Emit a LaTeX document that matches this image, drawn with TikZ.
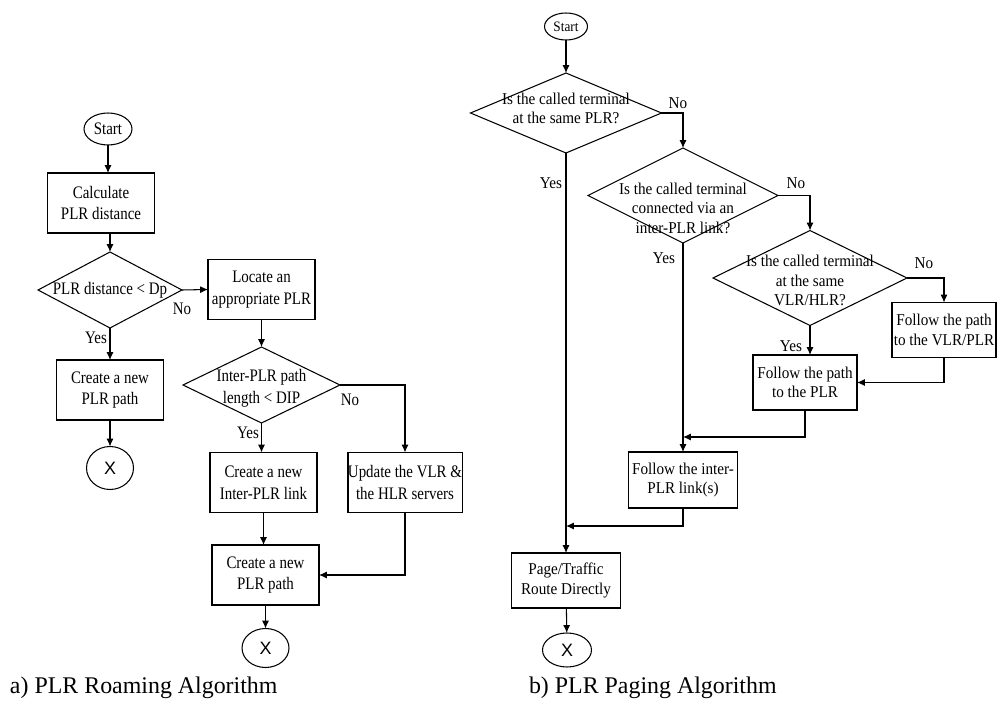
\documentclass[tikz,border=0pt]{standalone}
\usepackage{fontspec}
\setmainfont{Liberation Serif}
\newfontfamily\leftfont[FakeStretch=0.85]{Liberation Serif}
\newfontfamily\rightfont[FakeStretch=0.92]{Liberation Serif}
\newfontfamily\xfont{Liberation Sans}
\usetikzlibrary{shapes.geometric,arrows.meta}

% text of a decision, takes no room in the diamond
\newcommand{\dtext}[2][0pt]{\raisebox{#1}[0pt][0pt]{\makebox[0pt]{\begin{tabular}{@{}c@{}}#2\end{tabular}}}}

\begin{document}
\begin{tikzpicture}[x=0.02cm,y=-0.02cm,line width=0.6pt,
  >={Latex[length=4.5pt,width=4pt]},
  every node/.style={outer sep=0pt},
  lfont/.style={font=\leftfont\fontsize{10}{12.3}\selectfont},
  rfont/.style={font=\rightfont\fontsize{9.4}{11.2}\selectfont},
  lbox/.style={draw,rectangle,align=center,inner sep=0pt,minimum width=2.14cm,minimum height=1.2cm,lfont},
  rbox/.style={draw,rectangle,align=center,inner sep=0pt,minimum width=2.08cm,minimum height=1.1cm,rfont},
  decision/.style 2 args={diamond,draw,inner sep=0pt,minimum width=#1,minimum height=#2},
  term/.style 2 args={ellipse,draw,inner sep=0pt,minimum width=#1,minimum height=#2},
  stop/.style={font=\xfont\fontsize{10.2}{12}\selectfont},
  caption/.style={anchor=west,inner sep=0pt,font=\fontsize{13.6}{16}\selectfont}]
\useasboundingbox (0,0) rectangle (997,702);

% a) roaming
\node(startL) at (108,129)[term={0.96cm}{0.64cm},lfont] {Start};
\node(calc) at (101,203)[lbox] {Calculate\\PLR distance};
\node(d1) at (110,290)[decision={2.88cm}{1.52cm},lfont] {\dtext[-2.5pt]{PLR distance < Dp}};
\node(locate) at (261.5,289.5)[lbox] {Locate an\\appropriate PLR};
\node(pathL) at (110,390)[lbox] {Create a new\\PLR path};
\node(endL) at (110,468)[term={0.94cm}{0.86cm},stop] {X};
\node(d2) at (261.5,385)[decision={3.14cm}{1.52cm},lfont] {\dtext[-4.2pt]{Inter-PLR path\\length < DIP}};
\node(link) at (263.5,482.5)[lbox] {Create a new\\Inter-PLR link};
\node(update) at (405,482.5)[lbox,minimum width=2.28cm] {Update the VLR \&\\the HLR servers};
\node(pathM) at (265.5,575)[lbox] {Create a new\\PLR path};
\node(endM) at (265.5,648)[term={0.94cm}{0.78cm},stop] {X};

\node(noD1) at (182,309)[lfont] {No};
\node(yesD1) at (96,338)[lfont] {Yes};
\node(noD2) at (350,400)[lfont] {No};
\node(yesD2) at (248,433)[lfont] {Yes};

\path [->]
  (startL.south) edge (startL.south |- calc.north)
  (d1.north |- calc.south) edge (d1.north)
  (d1) edge (pathL)
  (pathL) edge (endL)
  (d1.east) edge (locate.west)
  (locate) edge (d2)
  (d2.south) edge (d2.south |- link.north)
  (link.south) edge (link.south |- pathM.north)
  (pathM) edge (endM);
\draw[->] (d2.east) -| (update.north);
\draw[->] (update.south) |- (pathM.east);

% b) paging
\node(startR) at (566,26.5)[term={0.86cm}{0.54cm},font=\rightfont\fontsize{8.2}{10}\selectfont] {Start};
\node(dA) at (566,113)[decision={3.82cm}{1.6cm},rfont] {\dtext[-0.6pt]{Is the called terminal\\at the same PLR?}};
\node(dB) at (683,195.5)[decision={3.8cm}{1.9cm},rfont] {\dtext[-10.5pt]{Is the called terminal\\connected via an\\inter-PLR link?}};
\node(dC) at (810,278)[decision={3.88cm}{1.9cm},rfont] {\dtext[-4.6pt]{Is the called terminal\\at the same\\VLR/HLR?}};
\node(tovlr) at (944,330)[rbox] {Follow the path\\to the VLR/PLR};
\node(toplr) at (805,382.5)[rbox] {Follow the path\\to the PLR};
\node(inter) at (683,480)[rbox,minimum width=2.18cm,minimum height=1.12cm] {Follow the inter-\\PLR link(s)};
\node(page) at (566,580.5)[rbox,minimum width=2.18cm] {Page/Traffic\\Route Directly};
\node(endR) at (567,650)[term={0.98cm}{0.68cm},stop] {X};
\coordinate(j1) at (683,437);
\coordinate(j2) at (566,526);

\node(noA) at (678,103)[rfont] {No};
\node(yesA) at (551,183)[rfont] {Yes};
\node(noB) at (796,183)[rfont] {No};
\node(yesB) at (664,258)[rfont] {Yes};
\node(noC) at (924,263)[rfont] {No};
\node(yesC) at (791,346)[rfont] {Yes};

\path [->]
  (startR) edge (dA)
  (dA) edge (page)
  (dB) edge (inter)
  (dC.south) edge (dC.south |- toplr.north)
  (page) edge (endR);
\draw[->] (dA.east) -| (dB.north);
\draw[->] (dB.east) -| (dC.north);
\draw[->] (dC.east) -| (tovlr.north);
\draw[->] (tovlr.south) |- (toplr.east);
\draw[->] (toplr.south) |- (j1);
\draw[->] (inter.south) |- (j2);

\node(capA) at (10,688)[caption] {a) PLR Roaming Algorithm};
\node(capB) at (529,688)[caption] {b) PLR Paging Algorithm};
\end{tikzpicture}
\end{document}
